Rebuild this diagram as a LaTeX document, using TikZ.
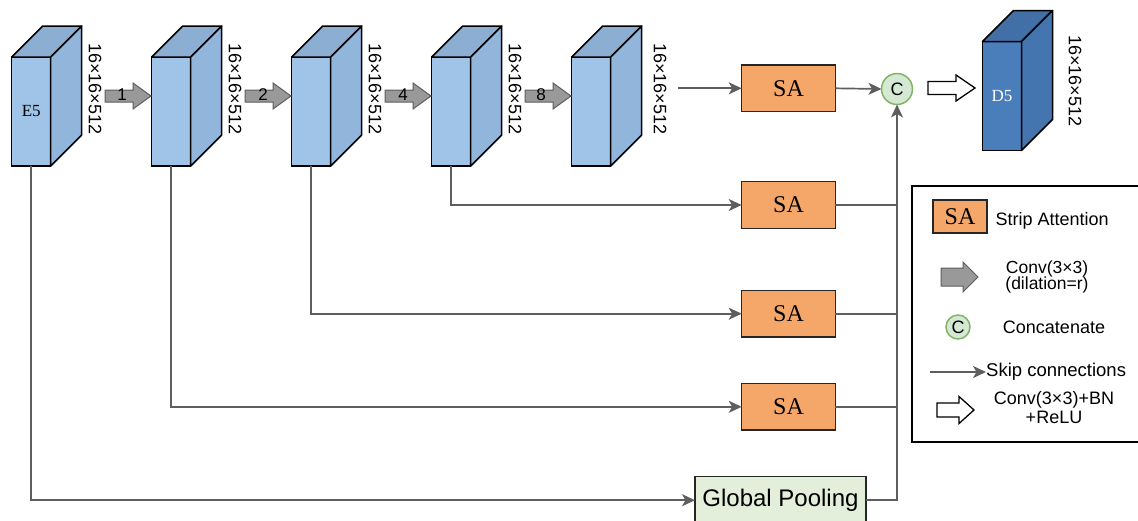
\documentclass[tikz,border=0pt]{standalone}
\usepackage{fontspec}
\setmainfont{Liberation Serif}
\newfontfamily\arial{Liberation Sans}
\usetikzlibrary{arrows.meta,calc}
\definecolor{cfront}{HTML}{9FC4E8}
\definecolor{cside}{HTML}{91B5DB}
\definecolor{ctop}{HTML}{8DAED3}
\definecolor{dfront}{HTML}{4A7EBB}
\definecolor{dside}{HTML}{4475AE}
\definecolor{dtop}{HTML}{416FA6}
\definecolor{saorange}{HTML}{F4A768}
\definecolor{gpgreen}{HTML}{E3EFDA}
\definecolor{cfill}{HTML}{D5E8D4}
\definecolor{cstroke}{HTML}{82B366}
\definecolor{linegray}{HTML}{5E5E5E}
\definecolor{arrowgray}{HTML}{999999}
\newcommand\mkcube[6]{%
  \node[cubefront, fill=#4] (#1) at #2 {#3};
  \draw[cubeedge, fill=#6] (#1.north west) -- ++(31,-31) -- ($(#1.north east)+(31,-31)$) -- (#1.north east) -- cycle;
  \draw[cubeedge, fill=#5] (#1.north east) -- ++(31,-31) -- ($(#1.south east)+(31,-31)$) -- (#1.south east) -- cycle;
}
\begin{document}
\begin{tikzpicture}[x=1pt,y=-1pt,
  cubefront/.style={draw=black, line width=1.5pt, minimum width=39pt, minimum height=109pt, inner sep=0pt, outer sep=0pt, font=\fontsize{17}{17}\selectfont},
  cubeedge/.style={draw=black, line width=1.5pt, line join=round},
  dimlabel/.style={rotate=-90, font=\arial\fontsize{18}{18}\selectfont},
  sabox/.style={draw=black!85, line width=1.5pt, fill=saorange, minimum width=93.6pt, minimum height=46.7pt, inner sep=0pt, outer sep=0pt, font=\fontsize{24}{24}\selectfont},
  gpbox/.style={draw=black!85, line width=1.5pt, fill=gpgreen, minimum width=171pt, minimum height=47pt, inner sep=0pt, outer sep=0pt, font=\arial\fontsize{24}{24}\selectfont},
  catnode/.style={circle, draw=cstroke, line width=1.5pt, fill=cfill, minimum size=31pt, inner sep=0pt, outer sep=0pt, font=\arial\fontsize{18}{18}\selectfont},
  conn/.style={draw=linegray, line width=1.7pt},
  skip/.style={conn, -{Stealth[length=13pt,width=12pt,inset=3.5pt]}},
  grayarrow/.style={draw=linegray, fill=arrowgray, line width=1pt, line join=miter},
  hollowarrow/.style={draw=black, fill=white, line width=1.3pt, line join=miter},
  legtext/.style={font=\arial\fontsize{18}{18}\selectfont, align=center},
  pics/garrow/.style={code={\draw[grayarrow] (0,-6) -- (28,-6) -- (28,-13) -- (46,0) -- (28,13) -- (28,6) -- (0,6) -- cycle;}}
]
\useasboundingbox (0,0) rectangle (1138,520);
\begin{scope}
\clip (0,0) rectangle (1138,520);

% encoder / dilated cubes
\mkcube{c1}{(31.2,111.5)}{E5}{cfront}{cside}{ctop}
\mkcube{c2}{(171.2,111.5)}{}{cfront}{cside}{ctop}
\mkcube{c3}{(311.2,111.5)}{}{cfront}{cside}{ctop}
\mkcube{c4}{(451.2,111.5)}{}{cfront}{cside}{ctop}
\mkcube{c5}{(591.2,111.5)}{}{cfront}{cside}{ctop}

\node[dimlabel] (l1) at (95,89) {16×16×512};
\node[dimlabel] (l2) at (235,89) {16×16×512};
\node[dimlabel] (l3) at (375,89) {16×16×512};
\node[dimlabel] (l4) at (515,89) {16×16×512};
\node[dimlabel] (l5) at (660,89) {16×16×512};

% dilated conv arrows
\pic at (105,96) {garrow};
\pic at (245,96) {garrow};
\pic at (385,96) {garrow};
\pic at (525,96) {garrow};
\node[font=\arial\fontsize{17}{17}\selectfont] (r1) at (122,95) {1};
\node[font=\arial\fontsize{17}{17}\selectfont] (r2) at (263,95) {2};
\node[font=\arial\fontsize{17}{17}\selectfont] (r4) at (403,95) {4};
\node[font=\arial\fontsize{17}{17}\selectfont] (r8) at (541,95) {8};

% SA boxes
\node[sabox] (sa1) at (788.5,88.3) {SA};
\node[sabox] (sa2) at (788.5,205) {SA};
\node[sabox] (sa3) at (788.5,313.7) {SA};
\node[sabox] (sa4) at (788.5,406.8) {SA};
\node[gpbox] (gp) at (780.5,500.2) {Global Pooling};
\node[catnode] (cc) at (897,89) {C};

% connectors
\coordinate (s5) at (678,88.3);
\draw[skip] (s5) -- (sa1.west);
\draw[skip] (sa1.east) -- (cc.west);
\draw[skip] (c4.south) |- (sa2.west);
\draw[skip] (c3.south) |- (sa3.west);
\draw[skip] (c2.south) |- (sa4.west);
\draw[skip] (c1.south) |- (gp.west);
\draw[conn] (sa2.east) -- (sa2.east -| cc.south);
\draw[conn] (sa3.east) -- (sa3.east -| cc.south);
\draw[conn] (sa4.east) -- (sa4.east -| cc.south);
\draw[skip] (gp.east) -| (cc.south);

% output
\draw[hollowarrow] (928,81.5) -- (956,81.5) -- (956,75) -- (975,88) -- (956,101) -- (956,94.5) -- (928,94.5) -- cycle;
\mkcube{d5}{(1002,96)}{\color{white}D5}{dfront}{dside}{dtop}
\node[dimlabel] (l6) at (1075,81) {16×16×512};

% legend
\draw[line width=1.5pt] (912,186) rectangle (1145,442);
\node[sabox, minimum width=54pt, minimum height=33pt] (lsa) at (960,216.5) {SA};
\node[legtext, anchor=west] (lt1) at (992,221) {Strip Attention};
\draw[grayarrow] (941,268) -- (963,268) -- (963,262) -- (978,277) -- (963,292) -- (963,286) -- (941,286) -- cycle;
\node[legtext, font=\arial\fontsize{17.5}{16.5}\selectfont] (lt2) at (1047,277) {Conv(3×3)\\(dilation=r)};
\node[catnode, minimum size=24pt] (lc) at (958,327) {C};
\node[legtext] (lt3) at (1054,327) {Concatenate};
\coordinate (lk0) at (930,372);
\node[legtext, anchor=west, inner sep=0pt, font=\arial\fontsize{18.5}{18}\selectfont] (lt4) at (986,372) {Skip connections};
\draw[skip] (lk0) -- (lt4.west);
\draw[hollowarrow] (937,403) -- (959,403) -- (959,396.5) -- (974,410) -- (959,423.5) -- (959,417) -- (937,417) -- cycle;
\node[legtext, font=\arial\fontsize{18}{19}\selectfont] (lt5) at (1054,407.5) {Conv(3×3)+BN\\+ReLU};
\end{scope}
\end{tikzpicture}
\end{document}
